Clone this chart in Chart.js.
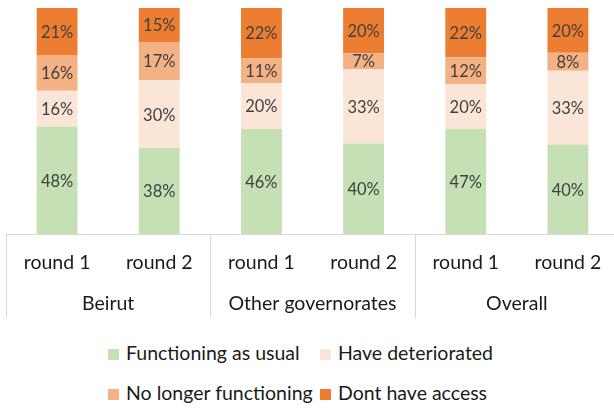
<!DOCTYPE html>
<html>
<head>
<meta charset="utf-8">
<script src="https://cdn.jsdelivr.net/npm/chart.js@4.4.1/dist/chart.umd.min.js"></script>
<style>
  html, body { margin: 0; padding: 0; background: #fff; overflow: hidden; }
  body { width: 614px; height: 408px; position: relative; font-family: Lato, sans-serif; }
  #wrap { position: absolute; left: 0; top: 0; width: 625px; height: 325px; }
  #legend {
    position: absolute; left: 108px; top: 341px;
    display: grid; grid-template-columns: 212px auto; row-gap: 16px;
    font-size: 19.5px; color: #1a1a1a; line-height: 24px;
  }
  #legend span.box { display: inline-block; width: 11px; height: 11px; margin-right: 7px; vertical-align: 0px; }
</style>
</head>
<body>
<div id="wrap"><canvas id="servicesChart" width="625" height="325"></canvas></div>
<div id="legend"></div>
<script>
const rounds = ["round 1", "round 2", "round 1", "round 2", "round 1", "round 2"];
const groups = ["Beirut", "Other governorates", "Overall"];

const functioning = [48, 38, 46, 40, 47, 40];
const deteriorated = [16, 30, 20, 33, 20, 33];
const noLonger = [16, 17, 11, 7, 12, 8];
const noAccess = [21, 15, 22, 20, 22, 20];

const seriesNames = ["Functioning as usual", "Have deteriorated", "No longer functioning", "Dont have access"];
const seriesColors = ["#C5E0B4", "#FBE5D6", "#F4B183", "#ED7D31"];
const seriesValues = [functioning, deteriorated, noLonger, noAccess];

// each column is a 100% stack, the labels keep the rounded figures
const totals = rounds.map((_, i) => seriesValues.reduce((s, arr) => s + arr[i], 0));

const datasets = seriesValues.map((vals, k) => ({
  label: seriesNames[k],
  data: vals.map((v, i) => v / totals[i] * 100),
  raw: vals,
  backgroundColor: seriesColors[k],
  borderWidth: 0,
  barPercentage: 0.4,
  categoryPercentage: 1
}));

const segmentLabels = {
  id: "segmentLabels",
  afterDatasetsDraw(chart) {
    const ctx = chart.ctx;
    ctx.save();
    ctx.font = "16.5px Lato";
    ctx.fillStyle = "#404040";
    ctx.textAlign = "center";
    ctx.textBaseline = "middle";
    chart.data.datasets.forEach((ds, k) => {
      chart.getDatasetMeta(k).data.forEach((bar, i) => {
        ctx.fillText(ds.raw[i] + "%", bar.x, (bar.y + bar.base) / 2 + 1);
      });
    });
    ctx.restore();
  }
};

// box lines of the two-level category axis
const groupLines = {
  id: "groupLines",
  afterDraw(chart) {
    const x = chart.scales.x;
    const g = chart.scales.groups;
    const ctx = chart.ctx;
    const half = (x.getPixelForValue(1) - x.getPixelForValue(0)) / 2;
    ctx.save();
    ctx.strokeStyle = "#D9D9D9";
    ctx.lineWidth = 1;
    ctx.beginPath();
    [0, 2, 4].forEach(i => {
      const px = Math.round(x.getPixelForValue(i) - half) + 0.5;
      ctx.moveTo(px, x.top);
      ctx.lineTo(px, g.bottom);
    });
    ctx.stroke();
    ctx.restore();
  }
};

new Chart(document.getElementById("servicesChart"), {
  type: "bar",
  data: { labels: rounds, datasets },
  options: {
    responsive: false,
    animation: false,
    layout: { padding: { top: 8, left: 6, right: 6, bottom: 7 } },
    plugins: { legend: { display: false }, tooltip: { enabled: false } },
    scales: {
      y: { stacked: true, display: false, min: 0, max: 100 },
      x: {
        stacked: true,
        grid: { display: false, drawTicks: false },
        border: { display: true, color: "#D9D9D9", width: 1 },
        ticks: { color: "#1a1a1a", font: { family: "Lato", size: 19.5 }, padding: 17, maxRotation: 0, autoSkip: false },
        afterFit(scale) { scale.height = 49; }
      },
      groups: {
        type: "category",
        position: "bottom",
        labels: groups,
        offset: true,
        grid: { display: false, drawTicks: false },
        border: { display: false },
        ticks: { color: "#1a1a1a", font: { family: "Lato", size: 19.5 }, padding: 9, maxRotation: 0 },
        afterFit(scale) { scale.height = 35; }
      }
    }
  },
  plugins: [segmentLabels, groupLines]
});

const legend = document.getElementById("legend");
seriesNames.forEach((name, k) => {
  const item = document.createElement("div");
  item.innerHTML = '<span class="box" style="background:' + seriesColors[k] + '"></span>' + name;
  legend.appendChild(item);
});
</script>
</body>
</html>
